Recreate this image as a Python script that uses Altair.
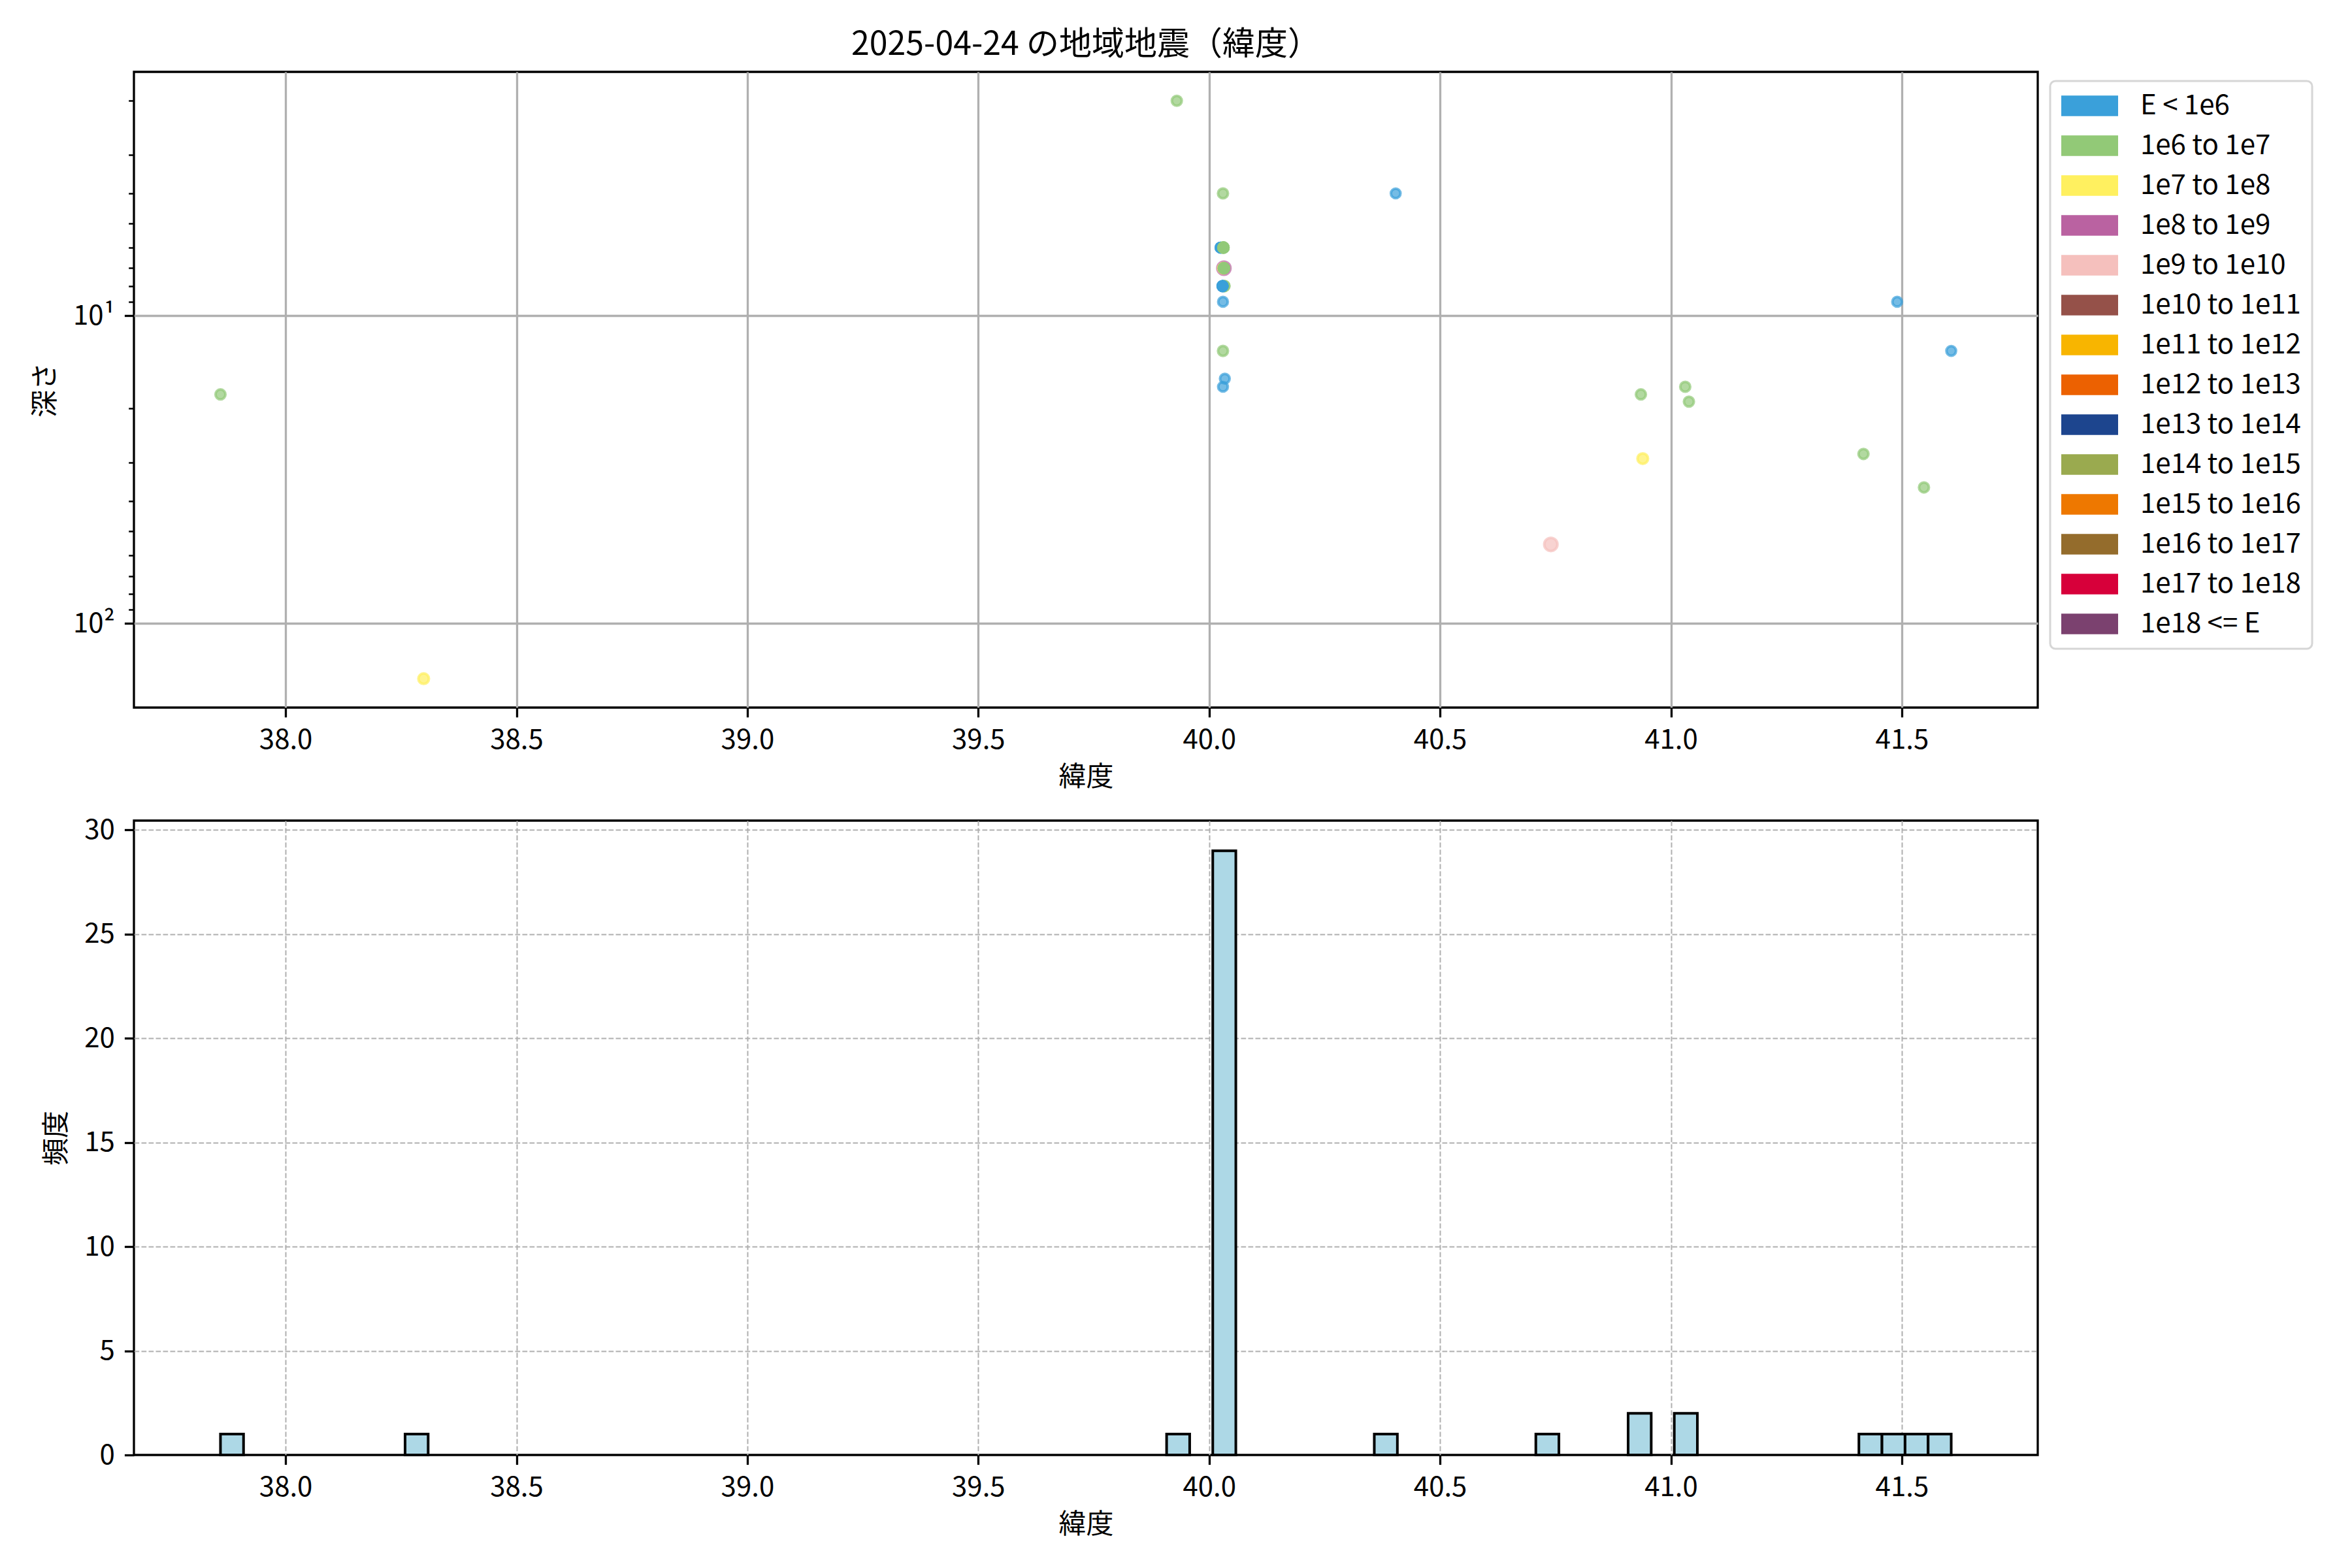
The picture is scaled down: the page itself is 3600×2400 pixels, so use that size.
import altair as alt
import numpy as np
import pandas as pd

FONT = "Noto Sans CJK JP"

classes = ["E < 1e6", "1e6 to 1e7", "1e7 to 1e8", "1e8 to 1e9", "1e9 to 1e10",
           "1e10 to 1e11", "1e11 to 1e12", "1e12 to 1e13", "1e13 to 1e14",
           "1e14 to 1e15", "1e15 to 1e16", "1e16 to 1e17", "1e17 to 1e18", "1e18 <= E"]
colors = ["#3aa0da", "#92c977", "#fff05f", "#ba62a1", "#f5c0bd", "#955149", "#f8b500",
          "#ec6101", "#1d458e", "#9aaa4f", "#ee7800", "#946c2c", "#d7003a", "#7b416f"]
class_sizes = [215, 230, 260, 400, 410, 430, 450, 470, 490, 510, 530, 550, 570, 590]

# latitude, depth (km), energy class index
lat = [37.859, 38.299, 39.930, 40.030,
       40.404,
       40.025, 40.025, 40.025, 40.025,
       40.031, 40.031, 40.031, 40.031, 40.031,
       40.032, 40.031, 40.032, 40.032, 40.032, 40.032, 40.032,
       40.033, 40.033, 40.029, 40.029, 40.029, 40.029, 40.029, 40.029,
       40.030, 40.030, 40.034, 40.030,
       40.740, 40.935, 40.939, 41.031, 41.039, 41.417, 41.490, 41.548, 41.607]
depth = [18.0, 151.0, 2.0, 4.0,
         4.0,
         6.0, 6.0, 6.0, 6.0,
         6.0, 6.0, 6.0, 6.0, 6.0,
         7.0, 7.0, 7.0, 7.0, 7.0, 7.0, 7.0,
         8.0, 8.0, 8.0, 8.0, 8.0, 8.0, 8.0, 8.0,
         9.0, 13.0, 16.0, 17.0,
         55.3, 18.0, 29.1, 17.0, 19.0, 28.1, 9.0, 36.1, 13.0]
energy_class = [1, 2, 1, 1,
                0,
                0, 0, 0, 0,
                1, 1, 1, 1, 1,
                3, 2, 1, 1, 1, 1, 1,
                1, 1, 0, 0, 0, 0, 0, 0,
                0, 1, 0, 0,
                4, 1, 2, 1, 1, 1, 0, 1, 0]

x_ticks = [38.0, 38.5, 39.0, 39.5, 40.0, 40.5, 41.0, 41.5]
depth_ticks = [2, 3, 4, 5, 6, 7, 8, 9, 10, 20, 30, 40, 50, 60, 70, 80, 90, 100]
count_ticks = [0, 5, 10, 15, 20, 25, 30]
n_bins = 75

df = pd.DataFrame({
    "lat": lat,
    "depth": depth,
    "cls": [classes[i] for i in energy_class],
    "sz": [class_sizes[i] for i in energy_class],
})

lat_arr = np.array(lat)
pad = 0.05 * (lat_arr.max() - lat_arr.min())
x_dom = [float(lat_arr.min() - pad), float(lat_arr.max() + pad)]
ld = np.log10(np.array(depth))
lpad = 0.05 * (ld.max() - ld.min())
y_dom = [float(10 ** (ld.min() - lpad)), float(10 ** (ld.max() + lpad))]

counts, edges = np.histogram(lat_arr, bins=n_bins)
hist = pd.DataFrame({"b0": edges[:-1], "b1": edges[1:], "count": counts})
hist = hist[hist["count"] > 0]
y2_max = float(counts.max() * 1.05)

W, H = 2914, 973
TICK_MAJ, TICK_MIN = 14.6, 8.3
major = "datum.value == 10 || datum.value == 100"

common_axis = dict(labelFont=FONT, titleFont=FONT, labelFontSize=42, titleFontSize=42,
                   titleFontWeight="normal", labelColor="black", titleColor="black",
                   tickColor="black", domain=False, labelPadding=15)

x_top = alt.X("lat:Q", scale=alt.Scale(domain=x_dom, nice=False, zero=False),
              axis=alt.Axis(values=x_ticks, format=".1f", title="緯度", tickSize=TICK_MAJ,
                            tickWidth=3.3, grid=True, gridColor="#b0b0b0", gridWidth=3.3,
                            titlePadding=16, **common_axis))
y_top = alt.Y("depth:Q",
              scale=alt.Scale(type="log", domain=y_dom, reverse=True, nice=False, zero=False),
              axis=alt.Axis(values=depth_ticks,
                            labelExpr="datum.value == 10 ? '10¹' : (datum.value == 100 ? '10²' : '')",
                            labelOverlap=False, labelBound=False,
                            tickSize={"condition": {"test": major, "value": TICK_MAJ}, "value": TICK_MIN},
                            tickWidth={"condition": {"test": major, "value": 3.3}, "value": 2.5},
                            grid=True, gridColor="#b0b0b0", gridWidth=3.3,
                            gridOpacity={"condition": {"test": major, "value": 1}, "value": 0},
                            title="深さ", titlePadding=20, **common_axis))

color_scale = alt.Scale(domain=classes, range=colors)
legend = alt.Legend(title=None, orient="none", legendX=W + 19, legendY=14,
                    symbolType="M-1,-0.36H1V0.36H-1Z", symbolSize=7569, symbolOpacity=1,
                    symbolStrokeWidth=0, clipHeight=42, rowPadding=19, labelOffset=34,
                    labelFontSize=42, labelFont=FONT, labelColor="black", labelLimit=0,
                    padding=17, strokeColor="#d6d6d6", cornerRadius=8,
                    fillColor="white", direction="vertical", columns=1)

top = alt.Chart(df).mark_point(filled=True, fillOpacity=0.7, strokeOpacity=0.7, strokeWidth=4).encode(
    x=x_top,
    y=y_top,
    color=alt.Color("cls:N", scale=color_scale, legend=legend),
    stroke=alt.Stroke("cls:N", scale=color_scale, legend=None),
    size=alt.Size("sz:Q", scale=None),
).properties(
    width=W, height=H,
    title=alt.Title("2025-04-24 の地域地震（緯度）", font=FONT, fontSize=50, fontWeight="normal",
                    color="black", anchor="middle", frame="group", offset=16),
)

x_bot = alt.X("b0:Q", scale=alt.Scale(domain=x_dom, nice=False, zero=False),
              axis=alt.Axis(values=x_ticks, format=".1f", title="緯度", tickSize=TICK_MAJ,
                            tickWidth=3.3, grid=True, gridColor="#b0b0b0", gridWidth=2,
                            gridDash=[7.7, 3.3], titlePadding=16, **common_axis))
y_bot = alt.Y("count:Q", scale=alt.Scale(domain=[0, y2_max], nice=False, zero=True),
              axis=alt.Axis(values=count_ticks, title="頻度", tickSize=TICK_MAJ, tickWidth=3.3,
                            grid=True, gridColor="#b0b0b0", gridWidth=2, gridDash=[7.7, 3.3],
                            gridOpacity={"condition": {"test": "datum.value == 0", "value": 0}, "value": 1},
                            titlePadding=20, **common_axis))

bottom = alt.Chart(hist).mark_bar(color="#add8e6", stroke="black", strokeWidth=4).encode(
    x=x_bot,
    x2="b1:Q",
    y=y_bot,
    y2=alt.datum(0),
).properties(width=W, height=971)

chart = alt.vconcat(top, bottom, spacing=34).properties(
    padding={"left": 38, "top": 34, "right": 20, "bottom": 20},
    background="white",
).configure_view(stroke="black", strokeWidth=3.3).configure_legend(strokeWidth=3)

chart.save("out.html", embed_options={"renderer": "svg", "actions": False})
